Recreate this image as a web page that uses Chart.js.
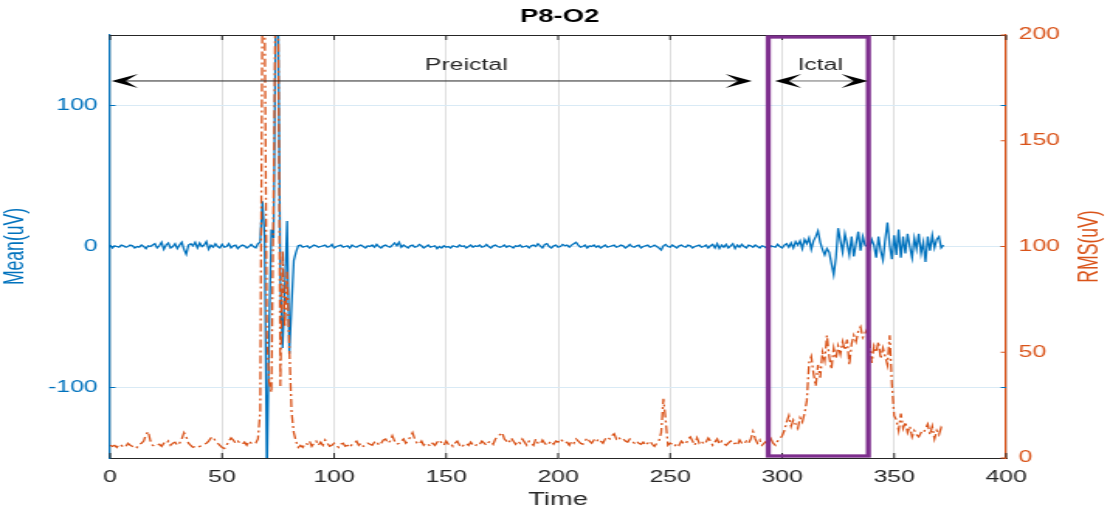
<!DOCTYPE html>
<html>
<head>
<meta charset="utf-8">
<title>P8-O2</title>
<script src="https://cdn.jsdelivr.net/npm/chart.js@4.4.1/dist/chart.umd.min.js"></script>
<style>
  html, body { margin: 0; padding: 0; background: #fff; }
  #chart { display: block; }
</style>
</head>
<body>
<!-- drawn at 716px wide and shown stretched to 1110px, like the source figure -->
<canvas id="chart" width="716" height="511" style="width:1110px;height:511px"></canvas>
<script>
// Mean(uV), one value per second, t = 0..372
const meanUV = [
    1, -1, 0.5, 0, -0.5, 1, 0.5, -0.5, 0, 1,            // 0
    0.5, -1, 0, -0.5, 1, 0, -1.5, 0.5, 0, 1,            // 10
    2, -1, 0.5, 3, -2, 1, 2.5, -1, 0, 2,                // 20
    -1.5, 1, 3, -2, -5.5, 1, 2, 0.5, 3, -1,             // 30
    2.5, 0, 1, 3.5, -2, 1, -0.5, 2, 0, -1,              // 40
    1.5, -0.5, 0, 2, -1, 0.5, 1, -1.5, 0, 1,            // 50
    0.5, -1, 0, 1.5, 0, -1, 2, 3, 32, 6,                // 60
    -165, -60, 12, 6, 170, 165, -25, -72, -30, 18,      // 70
    -76, -42, -10, -4, 0.5, 1, -0.5, 0, 0.5, -1,        // 80
    0, 1, 0.5, -0.5, 0, 0.5, 1, -0.5, 0, 1.5,           // 90
    -1, 0, 0.5, 1, -0.5, 0, 0.5, -1, 1, 0,              // 100
    -0.5, 0.5, 1, 0, -1, 0.5, 0, 1, -0.5, 1.5,          // 110
    0, -1, 0.5, 1, 0, -0.5, 1, 2.5, 0.5, 3,             // 120
    -0.5, 1, 0, -1, 0.5, 1, -0.5, 0, 1.5, 0.5,          // 130
    -1, 0, 1, -0.5, 0, 0.5, -1.5, 0, -1, 0.5,           // 140
    -0.5, 0, -1, 0.5, 0, -0.5, 1, 0, 0.5, -1,           // 150
    0, 1, -0.5, 0.5, 0, 1, -0.5, 0, 1.5, 0,             // 160
    -1, 0.5, 1, 0, -0.5, 0, 1, -0.5, 0.5, 0,            // 170
    -1, 0.5, 0, 1, -0.5, 0, 0.5, -1, 0.5, 1,            // 180
    0, 2, 0.5, -1, 1.5, 2, 0, -1, 0.5, 1,               // 190
    -0.5, 0, 1.5, 0.5, 1, -0.5, 1, 2, 3, 1,             // 200
    -0.5, 0, 1, -1, 0.5, 0, 1, -0.5, 0.5, -1,           // 210
    0, 1, -0.5, 0, 0.5, 1, -0.5, 0, 1, 0.5,             // 220
    -1, 0, 1.5, 0, -0.5, 0.5, 1, -1, 0, 0.5,            // 230
    1, -0.5, 0, 1, 0, -1, -2.5, 0.5, 1.5, 0,            // 240
    -0.5, 1, 0, -1, 0.5, 1, 0, -0.5, 1, 0.5,            // 250
    -1, 0, 0.5, 1, -0.5, 0, 1, -1, 0.5, 1.5,            // 260
    -1, 2, -1.5, 1, -0.5, 1.5, -1, 0.5, 2, -1.5,        // 270
    1, -0.5, 1.5, 0, -1, 1, 0.5, -0.5, 1, 0,            // 280
    -1, 0.5, 0, -1, -2, 0.5, 0, -0.5, 1.5, 0,           // 290
    -1, 1, 2, -0.5, 2.5, -1, 3.5, 1, 4, -1.5,           // 300
    5, 2, 6, -2, 4, 7, 11, 3, -2, -6,                   // 310
    -1.5, -4, -12, -20, -8, 13, 4, -4, 9, 2,            // 320
    -6, 7, -7, 2, 10.5, -3, 7, 1, 0, -2,                // 330
    5, 1, -8, 7, -3, -9.5, 5, 17, 1, -9,                // 340
    8, -6, 12, -8, 7, -5, 9, 0, -8, 6,                  // 350
    -2, 9, -5, 3, -11, 7, -3, 8, -1, 5,                 // 360
    7, -1, 1                                            // 370
];

// RMS(uV), same seconds
const rmsUV = [
    6, 5.5, 6, 5, 6.5, 6, 5, 5.5, 7, 6,                 // 0
    5.5, 6, 5, 6.5, 7, 8, 11, 12.5, 8, 6,               // 10
    5.5, 6, 6.5, 5.5, 7, 6.5, 8, 6, 7, 7.5,             // 20
    6, 7, 9, 12, 10, 7, 6, 5, 5.5, 5,                   // 30
    5.5, 6, 6.5, 7, 8, 9.5, 10, 8, 7, 6,                // 40
    5, 4.5, 6, 8, 9.5, 8.5, 7, 8, 7, 6.5,               // 50
    7.5, 6, 8, 7, 6.5, 7, 9, 22, 215, 210,              // 60
    58, 36, 31, 125, 235, 215, 34, 98, 62, 88,          // 70
    52, 22, 12, 8, 5, 6, 5, 7, 6.5, 8,                  // 80
    5.5, 7, 8, 6, 7.5, 6, 8.5, 7, 5.5, 6,               // 90
    7, 6, 5, 6.5, 7, 5.5, 6, 5, 6.5, 7,                 // 100
    8, 6, 7, 5.5, 6, 7, 6.5, 6, 7.5, 8,                 // 110
    6, 7, 8.5, 9, 7, 8, 10.5, 8, 6.5, 7,                // 120
    8, 9, 7, 8, 10, 12, 9, 7, 6.5, 8,                   // 130
    6, 7, 6.5, 5.5, 7, 6, 7.5, 8.5, 7, 6,               // 140
    8, 6.5, 7, 5.5, 7, 8, 6, 5, 6.5, 7,                 // 150
    6, 7.5, 6, 5.5, 7, 6.5, 8, 7, 6, 7.5,               // 160
    8, 6.5, 9, 10, 11, 12, 9, 8, 7, 9.5,                // 170
    8, 6.5, 8, 7, 9, 7.5, 6, 8, 7, 6,                   // 180
    9, 7, 6.5, 8.5, 7, 6, 7, 8, 6.5, 8,                 // 190
    7.5, 9, 8, 7, 7.5, 6, 8, 7, 9, 8,                   // 200
    7, 6.5, 8, 9.5, 8, 7, 8.5, 7.5, 9, 8,               // 210
    7, 9, 10, 9, 10.5, 11.5, 9, 10, 8.5, 9,             // 220
    8, 7.5, 9, 8, 7, 8, 7, 6.5, 7.5, 6,                 // 230
    7, 8, 6.5, 5.5, 7, 8, 12, 28, 18, 6,                // 240
    7, 6.5, 5.5, 7, 6, 8, 7, 6.5, 9, 10,                // 250
    8, 6, 9.5, 7, 8, 6.5, 7.5, 9.5, 8, 6,               // 260
    7.5, 9, 6.5, 8, 7, 6, 7, 8, 6.5, 7,                 // 270
    6, 8.5, 7, 6.5, 8, 7, 9, 12.5, 9, 7,                // 280
    8.5, 6, 7, 8, 6, 9, 7, 6, 8, 9,                     // 290
    10.5, 13, 17, 20, 15, 18, 16, 14, 19, 17,           // 300
    21, 27, 45, 48, 40, 34, 44, 38, 50, 46,             // 310
    58, 48, 42, 52, 47, 53, 49, 55, 51, 56,             // 320
    44, 54, 58, 55, 60, 62, 57, 59, 61, 56,             // 330
    45, 53, 50, 55, 47, 52, 48, 44, 58, 35,             // 340
    20, 18, 13, 21, 14, 17, 12, 15, 10, 13,             // 350
    11, 10, 12, 11.5, 14, 16, 11, 15, 9, 13,            // 360
    11, 14.5, 13                                        // 370
];

const time = meanUV.map((v, i) => i);

const timeTicks = [0, 50, 100, 150, 200, 250, 300, 350, 400];
const meanTicks = [-100, 0, 100];
const rmsTicks = [0, 50, 100, 150, 200];

// annotations, in data units (time, Mean)
const preictalArrow = [0, 286.5];
const ictalArrow = [296.8, 338.2];
const ictalBox = [293.8, 338.5];
const arrowLevel = 117.4;
const labelLevel = 128;

const BLUE = "#0072BD";
const ORANGE = "#D95319";
const PURPLE = "#7E2F8E";
const DARK = "#262626";
const FONT = "'Liberation Sans', Arial, Helvetica, sans-serif";

function arrowHead(ctx, x, y, dir) {
    ctx.beginPath();
    ctx.moveTo(x, y);
    ctx.lineTo(x - dir * 17, y - 7);
    ctx.lineTo(x - dir * 9, y);
    ctx.lineTo(x - dir * 17, y + 7);
    ctx.closePath();
    ctx.fill();
}

function doubleArrow(ctx, x1, x2, y, shaft) {
    ctx.strokeStyle = shaft;
    ctx.lineWidth = 1;
    ctx.beginPath();
    ctx.moveTo(x1 + 8, y);
    ctx.lineTo(x2 - 8, y);
    ctx.stroke();
    ctx.fillStyle = "#000";
    arrowHead(ctx, x1, y, -1);
    arrowHead(ctx, x2, y, 1);
}

const decorations = {
    id: "decorations",
    afterDraw(chart) {
        const ctx = chart.ctx;
        const area = chart.chartArea;
        const xs = chart.scales.x;
        const yl = chart.scales.yMean;
        const yr = chart.scales.yRms;
        ctx.save();

        // top frame
        ctx.strokeStyle = DARK;
        ctx.lineWidth = 1;
        ctx.beginPath();
        ctx.moveTo(area.left, area.top + 0.5);
        ctx.lineTo(area.right, area.top + 0.5);
        ctx.stroke();

        // inward ticks
        ctx.beginPath();
        timeTicks.forEach(v => {
            const px = xs.getPixelForValue(v);
            ctx.moveTo(px, area.bottom);
            ctx.lineTo(px, area.bottom - 5);
            ctx.moveTo(px, area.top);
            ctx.lineTo(px, area.top + 5);
        });
        ctx.stroke();

        ctx.strokeStyle = BLUE;
        ctx.beginPath();
        meanTicks.forEach(v => {
            const py = yl.getPixelForValue(v);
            ctx.moveTo(area.left, py);
            ctx.lineTo(area.left + 3.5, py);
            ctx.moveTo(area.right, py);
            ctx.lineTo(area.right - 3.5, py);
        });
        ctx.stroke();

        ctx.strokeStyle = ORANGE;
        ctx.beginPath();
        rmsTicks.forEach(v => {
            const py = yr.getPixelForValue(v);
            ctx.moveTo(area.right, py);
            ctx.lineTo(area.right - 3.5, py);
        });
        ctx.stroke();

        // ictal window
        ctx.strokeStyle = PURPLE;
        ctx.lineWidth = 3.3;
        const bx1 = xs.getPixelForValue(ictalBox[0]);
        const bx2 = xs.getPixelForValue(ictalBox[1]);
        ctx.strokeRect(bx1, area.top + 2, bx2 - bx1, area.bottom - area.top - 4);

        // arrows
        const ay = yl.getPixelForValue(arrowLevel);
        doubleArrow(ctx, xs.getPixelForValue(preictalArrow[0]) + 1,
            xs.getPixelForValue(preictalArrow[1]), ay, DARK);
        doubleArrow(ctx, xs.getPixelForValue(ictalArrow[0]),
            xs.getPixelForValue(ictalArrow[1]), ay, "#6e6e6e");

        // texts
        const ly = yl.getPixelForValue(labelLevel);
        ctx.fillStyle = DARK;
        ctx.font = "16px " + FONT;
        ctx.textAlign = "center";
        ctx.textBaseline = "middle";
        ctx.fillText("Preictal", xs.getPixelForValue(159), ly);
        ctx.fillText("Ictal", xs.getPixelForValue(317), ly);

        ctx.fillStyle = "#000";
        ctx.font = "bold 17.6px " + FONT;
        ctx.fillText("P8-O2", (area.left + area.right) / 2 + 1, 17);

        ctx.fillStyle = ORANGE;
        ctx.font = "17.6px " + FONT;
        ctx.translate(703, (area.top + area.bottom) / 2);
        ctx.rotate(-Math.PI / 2);
        ctx.fillText("RMS(uV)", 0, 0);

        ctx.restore();
    }
};

new Chart(document.getElementById("chart"), {
    type: "line",

    data: {
        datasets: [
            {
                label: "RMS(uV)",
                yAxisID: "yRms",
                data: time.map((t, i) => ({ x: t, y: rmsUV[i] })),
                borderColor: ORANGE,
                borderWidth: 1.3,
                borderDash: [8, 3, 2, 3],
                pointRadius: 0,
                tension: 0,
                fill: false
            },
            {
                label: "Mean(uV)",
                yAxisID: "yMean",
                data: time.map((t, i) => ({ x: t, y: meanUV[i] })),
                borderColor: BLUE,
                borderWidth: 1.3,
                pointRadius: 0,
                tension: 0,
                fill: false
            }
        ]
    },

    options: {
        responsive: false,
        animation: false,
        events: [],

        layout: {
            padding: { top: 35, left: 0, right: 0, bottom: 0 }
        },

        plugins: {
            legend: { display: false },
            tooltip: { enabled: false },
            title: { display: false }
        },

        scales: {
            x: {
                type: "linear",
                min: 0,
                max: 400,
                afterBuildTicks: s => { s.ticks = timeTicks.map(v => ({ value: v })); },
                afterFit: s => { s.height = 53; },
                ticks: {
                    color: DARK,
                    padding: 10,
                    maxRotation: 0,
                    font: { family: FONT, size: 16 }
                },
                grid: {
                    color: "#dedede",
                    drawTicks: false
                },
                border: { color: DARK, width: 1 },
                title: {
                    display: true,
                    text: "Time",
                    color: DARK,
                    font: { family: FONT, size: 17.6, lineHeight: 1.2 },
                    padding: { top: 0, bottom: 0.5 }
                }
            },

            yMean: {
                type: "linear",
                position: "left",
                min: -150,
                max: 150,
                afterBuildTicks: s => { s.ticks = meanTicks.map(v => ({ value: v })); },
                afterFit: s => { s.width = 71; },
                ticks: {
                    color: BLUE,
                    padding: 8,
                    font: { family: FONT, size: 16 }
                },
                grid: {
                    color: "#d9eaf5",
                    drawTicks: false
                },
                border: { color: BLUE, width: 1.2 },
                title: {
                    display: true,
                    text: "Mean(uV)",
                    color: BLUE,
                    font: { family: FONT, size: 17.6, lineHeight: 1.2 },
                    padding: { top: 0, bottom: 0 }
                }
            },

            yRms: {
                type: "linear",
                position: "right",
                min: 0,
                max: 200,
                afterBuildTicks: s => { s.ticks = rmsTicks.map(v => ({ value: v })); },
                afterFit: s => { s.width = 67; },
                ticks: {
                    color: ORANGE,
                    padding: 8,
                    font: { family: FONT, size: 16 }
                },
                grid: {
                    display: false,
                    drawOnChartArea: false,
                    drawTicks: false
                },
                border: { color: ORANGE, width: 1.2 }
            }
        }
    },

    plugins: [decorations]
});
</script>
</body>
</html>
